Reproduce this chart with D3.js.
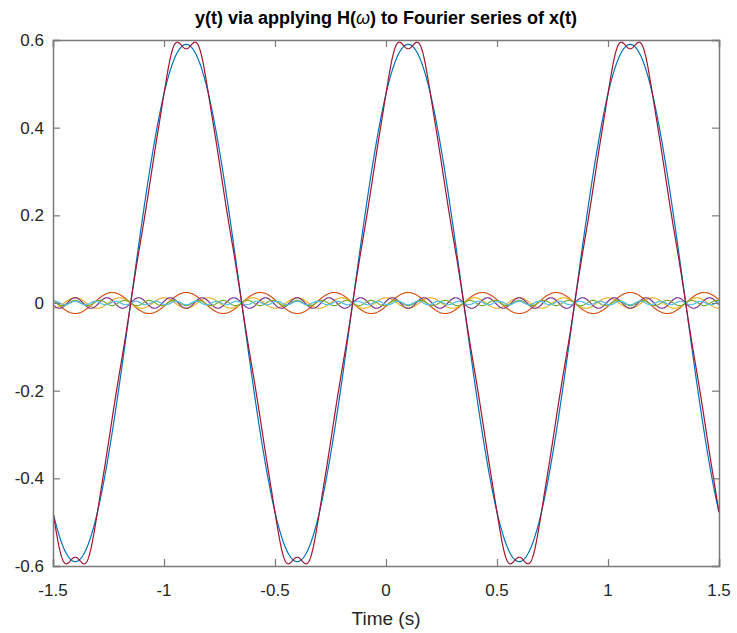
<!DOCTYPE html>
<html>
<head>
<meta charset="utf-8">
<script src="https://cdnjs.cloudflare.com/ajax/libs/d3/7.8.5/d3.min.js"></script>
<style>
body { margin: 0; background: #fff; }
text { font-family: "Liberation Sans", Arial, Helvetica, sans-serif; fill: #262626; }
</style>
</head>
<body>
<svg id="chart" width="737" height="633"></svg>
<script>
// harmonic terms (cosine terms, peak of fundamental at t0)
var harmonics = [1, 3, 5, 7, 9, 11];
var amplitudes = [0.59, 0.024, -0.012, -0.012, -0.006, -0.004];
var t0 = 0.1; // time of the first peak
var period = 1;
var colors = ["#0072BD", "#D95319", "#EDB120", "#7E2F8E", "#77AC30", "#4DBEEE"];
var sumColor = "#A2142F";
var xTicks = [-1.5, -1, -0.5, 0, 0.5, 1, 1.5];
var yTicks = [-0.6, -0.4, -0.2, 0, 0.2, 0.4, 0.6];
var titleText = "y(t) via applying H(";
var titleOmega = "\u03C9";
var titleRest = ") to Fourier series of x(t)";
var xLabel = "Time (s)";

// plot box
var boxL = 53, boxR = 719, boxT = 40, boxB = 566;

var svg = d3.select("#chart");
var x = d3.scaleLinear().domain([-1.5, 1.5]).range([boxL, boxR]);
var y = d3.scaleLinear().domain([-0.6, 0.6]).range([boxB, boxT]);

// time grid
var times = d3.range(-1.5, 1.5 + 1e-9, 0.002);

// each harmonic term, then the sum
var series = harmonics.map(function(k, i) {
	return times.map(function(t) {
		return { t: t, v: amplitudes[i] * Math.cos(2 * Math.PI * k * (t - t0) / period) };
	});
});
var total = times.map(function(t, j) {
	return { t: t, v: d3.sum(series, function(s) { return s[j].v; }) };
});

svg.append("clipPath").attr("id", "clip")
	.append("rect")
	.attr("x", boxL).attr("y", boxT)
	.attr("width", boxR - boxL).attr("height", boxB - boxT);

var line = d3.line()
	.x(function(d) { return x(d.t); })
	.y(function(d) { return y(d.v); });

var plot = svg.append("g").attr("clip-path", "url(#clip)");
series.forEach(function(s, i) {
	plot.append("path").datum(s)
		.attr("d", line)
		.attr("fill", "none")
		.attr("stroke", colors[i])
		.attr("stroke-width", 1.2);
});
plot.append("path").datum(total)
	.attr("d", line)
	.attr("fill", "none")
	.attr("stroke", sumColor)
	.attr("stroke-width", 1.2);

// axes (matlab style, ticks inside and mirrored)
var axisColor = "#7a7a7a";
var fmt = function(d) { return String(+d.toFixed(1)); }; // plain hyphen minus

var xAxisB = svg.append("g").attr("transform", "translate(0," + boxB + ")")
	.call(d3.axisTop(x).tickValues(xTicks).tickSize(7).tickFormat(""));
var xAxisT = svg.append("g").attr("transform", "translate(0," + boxT + ")")
	.call(d3.axisBottom(x).tickValues(xTicks).tickSize(7).tickFormat(""));
var yAxisL = svg.append("g").attr("transform", "translate(" + boxL + ",0)")
	.call(d3.axisRight(y).tickValues(yTicks).tickSize(7).tickFormat(""));
var yAxisR = svg.append("g").attr("transform", "translate(" + boxR + ",0)")
	.call(d3.axisLeft(y).tickValues(yTicks).tickSize(7).tickFormat(""));

[xAxisB, xAxisT, yAxisL, yAxisR].forEach(function(a) {
	a.selectAll("path").attr("stroke", axisColor).attr("stroke-width", 1.5);
	a.selectAll("line").attr("stroke", axisColor).attr("stroke-width", 1.2);
});

// tick labels
svg.append("g").selectAll("text").data(xTicks).enter().append("text")
	.attr("x", function(d) { return x(d); })
	.attr("y", boxB + 30)
	.attr("text-anchor", "middle")
	.style("font-size", "17px")
	.text(fmt);
svg.append("g").selectAll("text").data(yTicks).enter().append("text")
	.attr("x", boxL - 9)
	.attr("y", function(d) { return y(d) + 6; })
	.attr("text-anchor", "end")
	.style("font-size", "17px")
	.text(fmt);

// x label
svg.append("text")
	.attr("x", (boxL + boxR) / 2)
	.attr("y", 625)
	.attr("text-anchor", "middle")
	.style("font-size", "19px")
	.text(xLabel);

// title
var title = svg.append("text")
	.attr("x", (boxL + boxR) / 2)
	.attr("y", 24)
	.attr("text-anchor", "middle")
	.style("font-size", "18px")
	.style("font-weight", "bold")
	.style("fill", "#000");
title.append("tspan").text(titleText);
title.append("tspan").style("font-weight", "normal").style("font-style", "italic").text(titleOmega);
title.append("tspan").text(titleRest);
</script>
</body>
</html>
